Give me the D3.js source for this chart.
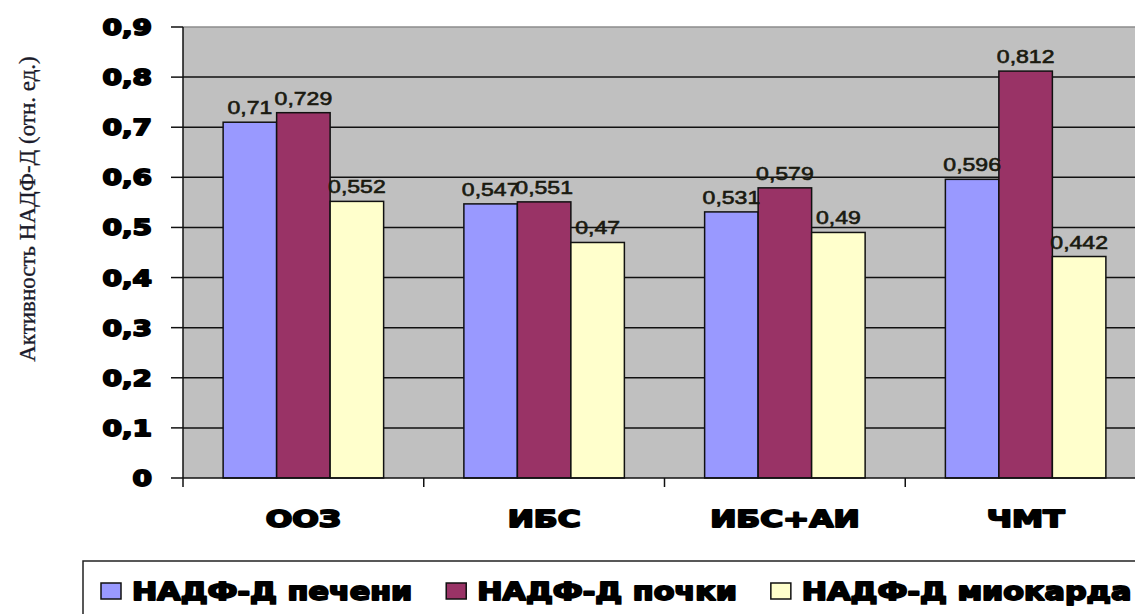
<!DOCTYPE html>
<html>
<head>
<meta charset="utf-8">
<script src="https://cdn.jsdelivr.net/npm/d3@7.9.0/dist/d3.min.js"></script>
<style>
  html, body { margin: 0; padding: 0; background: #fff; overflow: hidden; }
  svg { display: block; }
  .heavy { stroke-linejoin: round; }
</style>
</head>
<body>
<svg id="chart" width="1135" height="614"></svg>
<script>
// data
const categories = ["ООЗ", "ИБС", "ИБС+АИ", "ЧМТ"];
const seriesNames = ["НАДФ-Д печени", "НАДФ-Д почки", "НАДФ-Д миокарда"];
const liver = [0.71, 0.547, 0.531, 0.596];
const kidney = [0.729, 0.551, 0.579, 0.812];
const myocardium = [0.552, 0.47, 0.49, 0.442];
const yTicks = [0, 0.1, 0.2, 0.3, 0.4, 0.5, 0.6, 0.7, 0.8, 0.9];
const yTickLabels = ["0", "0,1", "0,2", "0,3", "0,4", "0,5", "0,6", "0,7", "0,8", "0,9"];
const yTitle = "Активность НАДФ-Д (отн. ед.)";

const colors = ["#9999ff", "#993366", "#ffffcc"];
const seriesValues = [liver, kidney, myocardium];

const svg = d3.select("#chart");
const plotLeft = 183, plotRight = 1146, plotTop = 27, plotBottom = 478;

const x0 = d3.scaleBand().domain(categories).range([plotLeft, plotRight]).padding(0);
const x1 = d3.scaleBand().domain(d3.range(seriesNames.length))
  .range([0, x0.bandwidth()]).paddingInner(0).paddingOuter(0.75);
const y = d3.scaleLinear().domain([0, 0.9]).range([plotBottom, plotTop]);

const fmt = v => String(v).replace(".", ",");

// the source picture is stretched sideways, so text gets a horizontal scale
function stretched(g, x, yy, txt, sx) {
  return g.append("text")
    .attr("transform", `translate(${x},${yy}) scale(${sx},1)`)
    .text(txt);
}

// heavy black text (imitates Arial Black)
function heavyGroup(parent, size, anchor) {
  return parent.append("g")
    .attr("class", "heavy")
    .attr("font-family", "DejaVu Sans, sans-serif")
    .attr("font-weight", "bold")
    .attr("font-size", size)
    .attr("fill", "#000").attr("stroke", "#000").attr("stroke-width", 1.8)
    .attr("text-anchor", anchor);
}

// plot area
svg.append("rect")
  .attr("x", plotLeft).attr("y", plotTop)
  .attr("width", plotRight - plotLeft).attr("height", plotBottom - plotTop)
  .attr("fill", "#c0c0c0");
svg.append("line")
  .attr("x1", plotLeft).attr("x2", plotRight).attr("y1", plotTop).attr("y2", plotTop)
  .attr("stroke", "#8c8c8c").attr("stroke-width", 1.5);

// gridlines
svg.append("g")
  .selectAll("line")
  .data(yTicks.filter(t => t > 0 && t < 0.9))
  .join("line")
  .attr("x1", plotLeft).attr("x2", plotRight)
  .attr("y1", d => y(d)).attr("y2", d => y(d))
  .attr("stroke", "#111").attr("stroke-width", 1.5);

// bars
const groups = svg.append("g")
  .selectAll("g")
  .data(categories)
  .join("g")
  .attr("transform", d => `translate(${x0(d)},0)`);

groups.selectAll("rect")
  .data((c, ci) => seriesValues.map((s, si) => ({ si, v: s[ci] })))
  .join("rect")
  .attr("x", d => x1(d.si))
  .attr("width", x1.bandwidth())
  .attr("y", d => y(d.v))
  .attr("height", d => y(0) - y(d.v))
  .attr("fill", d => colors[d.si])
  .attr("stroke", "#111")
  .attr("stroke-width", 1.5);

// value labels
groups.each(function (c, ci) {
  const g = d3.select(this).append("g")
    .attr("font-family", "Liberation Sans, Arial, sans-serif")
    .attr("font-size", 18)
    .attr("fill", "#1a1a10")
    .attr("stroke", "#1a1a10")
    .attr("stroke-width", 0.6)
    .attr("text-anchor", "middle");
  seriesValues.forEach((s, si) => {
    stretched(g, x1(si) + x1.bandwidth() / 2, y(s[ci]) - 8, fmt(s[ci]), 1.28);
  });
});

// y axis
const yAxis = svg.append("g");
yAxis.append("line")
  .attr("x1", plotLeft).attr("x2", plotLeft).attr("y1", plotTop).attr("y2", plotBottom)
  .attr("stroke", "#111").attr("stroke-width", 1.5);
yAxis.selectAll("line.tick")
  .data(yTicks)
  .join("line")
  .attr("class", "tick")
  .attr("x1", plotLeft - 12).attr("x2", plotLeft)
  .attr("y1", d => y(d)).attr("y2", d => y(d))
  .attr("stroke", "#111").attr("stroke-width", 1.5);
const yLab = heavyGroup(yAxis, 22, "end");
yTicks.forEach((t, i) => {
  stretched(yLab, 152, y(t) + 8, yTickLabels[i], 1.27);
});

// x axis
const xAxis = svg.append("g");
xAxis.append("line")
  .attr("x1", plotLeft).attr("x2", plotRight).attr("y1", plotBottom).attr("y2", plotBottom)
  .attr("stroke", "#111").attr("stroke-width", 1.5);
const xTickPos = categories.map(c => x0(c)).concat([plotRight]);
xAxis.selectAll("line.tick")
  .data(xTickPos)
  .join("line")
  .attr("class", "tick")
  .attr("x1", d => d).attr("x2", d => d)
  .attr("y1", plotBottom).attr("y2", plotBottom + 9)
  .attr("stroke", "#111").attr("stroke-width", 1.5);
const xLab = heavyGroup(xAxis, 23, "middle");
categories.forEach(c => {
  stretched(xLab, x0(c) + x0.bandwidth() / 2, 527, c, 1.36);
});

// y title
svg.append("text")
  .attr("transform", "translate(35,209) rotate(-90)")
  .attr("text-anchor", "middle")
  .attr("font-family", "Liberation Serif, Times New Roman, serif")
  .attr("font-size", 23)
  .attr("fill", "#1a1a2a")
  .attr("stroke", "#1a1a2a").attr("stroke-width", 0.3)
  .text(yTitle);

// legend
const legend = svg.append("g");
legend.append("rect")
  .attr("x", 83).attr("y", 561)
  .attr("width", 1135).attr("height", 120)
  .attr("fill", "#fff").attr("stroke", "#222").attr("stroke-width", 1.5);

const legendSx = 1.26;
let lx = 101;
seriesNames.forEach((name, i) => {
  const item = legend.append("g").attr("transform", `translate(${lx},0)`);
  item.append("rect")
    .attr("x", 0).attr("y", 583)
    .attr("width", 20).attr("height", 16)
    .attr("fill", colors[i])
    .attr("stroke", "#111").attr("stroke-width", 1.5);
  const g = heavyGroup(item, 24, "start");
  const t = stretched(g, 31, 600, name, legendSx);
  lx += 31 + t.node().getComputedTextLength() * legendSx + 34;
});
</script>
</body>
</html>
